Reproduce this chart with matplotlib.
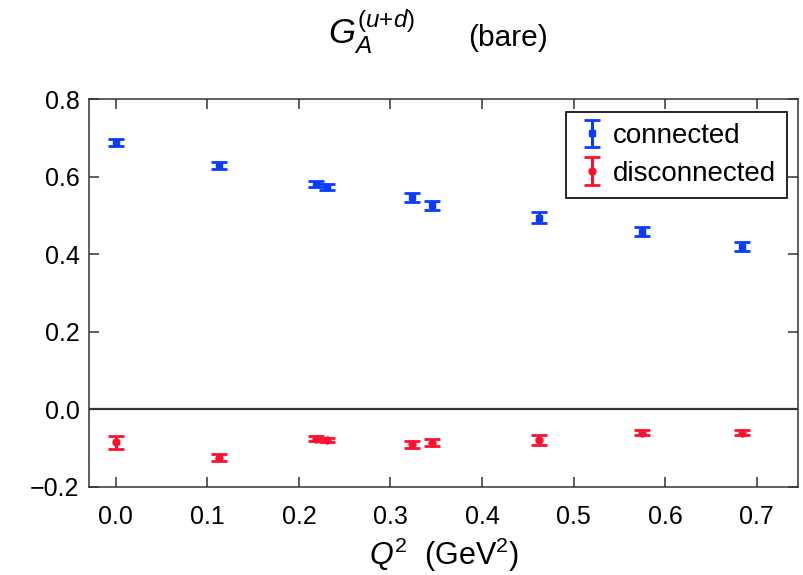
import numpy as np
import matplotlib as mpl
mpl.use("Agg")
import matplotlib.pyplot as plt

# Q^2 values (GeV^2)
q2 = [0.0, 0.113, 0.219, 0.231, 0.324, 0.345, 0.462, 0.575, 0.684]

# connected contribution
conn_val = [0.688, 0.629, 0.581, 0.574, 0.546, 0.526, 0.494, 0.458, 0.419]
conn_err = [0.009, 0.009, 0.008, 0.008, 0.012, 0.012, 0.014, 0.011, 0.011]

# disconnected contribution
disc_val = [-0.086, -0.125, -0.076, -0.080, -0.091, -0.087, -0.080, -0.061, -0.061]
disc_err = [0.018, 0.010, 0.006, 0.006, 0.010, 0.009, 0.013, 0.006, 0.006]

xticks = [0.0, 0.1, 0.2, 0.3, 0.4, 0.5, 0.6, 0.7]
yticks = [-0.2, 0.0, 0.2, 0.4, 0.6, 0.8]

plt.rcParams["font.family"] = ["Liberation Sans", "DejaVu Sans"]
plt.rcParams["mathtext.fontset"] = "custom"
plt.rcParams["mathtext.rm"] = "Liberation Sans"
plt.rcParams["mathtext.it"] = "Liberation Sans:italic"

BLUE = "#0a3cff"
RED = "#ff1030"
W, H = 804, 575

fig = plt.figure(figsize=(8.04, 5.75), dpi=100)
ax = fig.add_axes([0.111, 0.1536, 0.8815, 0.6742])

ax.axhline(0.0, color="#333333", lw=1.6, zorder=1)

ax.errorbar(q2, conn_val, yerr=conn_err, fmt="s", ms=5, color=BLUE,
            ecolor=BLUE, elinewidth=2.2, capsize=5.5, capthick=2,
            label="connected", zorder=3)
ax.errorbar(q2, disc_val, yerr=disc_err, fmt="o", ms=5, color=RED,
            ecolor=RED, elinewidth=2.2, capsize=5.5, capthick=2,
            label="disconnected", zorder=3)

ax.set_xlim(-0.029, 0.745)
ax.set_ylim(-0.2, 0.8)
ax.set_xticks(xticks)
ax.set_xticklabels([f"{t:.1f}" for t in xticks])
ax.set_yticks(yticks)
ax.set_yticklabels([f"{t:.1f}".replace("-", "\u2212") for t in yticks])

ax.tick_params(direction="in", length=7, width=1.1, top=True, right=True,
               labelsize=18, color="#333333")
ax.tick_params(axis="x", pad=13)
ax.tick_params(axis="y", pad=7)
for s in ax.spines.values():
    s.set_linewidth(1.1)
    s.set_color("#333333")

ax.set_xlabel(r"$Q^2$  (GeV$^2$)", fontsize=22, labelpad=5)

# title: G_A^(u+d)   (bare)
fig.text(328 / W, 1 - 45 / H, r"$G_A^{(u{+}d)}$", fontsize=25,
         ha="left", va="baseline")
fig.text(468 / W, 1 - 46 / H, "(bare)", fontsize=21.5, ha="left", va="baseline")

leg = ax.legend(loc="upper right", bbox_to_anchor=(0.9845, 0.9665),
                fontsize=20, fancybox=False, edgecolor="black", framealpha=1,
                borderaxespad=0, handlelength=1.08, handletextpad=0.22,
                borderpad=0.4, labelspacing=0.41)
leg.get_frame().set_linewidth(1.2)

fig.savefig("out.png", dpi=100)
